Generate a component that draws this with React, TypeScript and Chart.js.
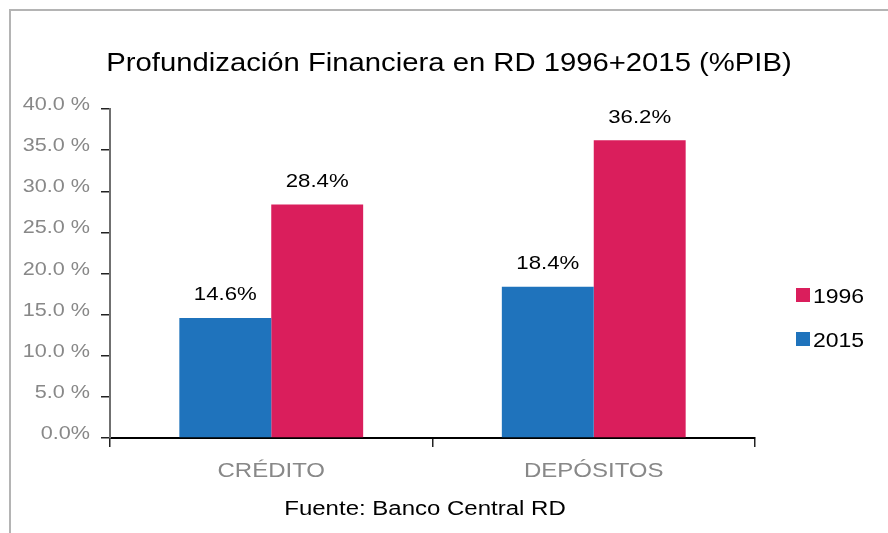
import React, { useEffect, useRef } from "react";
import { Chart, registerables } from "chart.js";

Chart.register(...registerables);

const categories = ["CRÉDITO", "DEPÓSITOS"];
const series2015 = [14.6, 18.4];
const series1996 = [28.4, 36.2];
const seriesLabels = ["2015", "1996"];
const yTicks = [0, 5, 10, 15, 20, 25, 30, 35, 40];
const titleText = "Profundización Financiera en RD 1996+2015 (%PIB)";
const footerText = "Fuente: Banco Central RD";

const BLUE = "#1F73BC";
const PINK = "#DA1E5C";
const FONT = "'Liberation Sans', Arial, Helvetica, sans-serif";

function yLabel(v: number) {
  return v === 0 ? "0.0%" : v.toFixed(1) + " %";
}

function drawText(
  ctx: CanvasRenderingContext2D,
  text: string,
  x: number,
  y: number,
  size: number,
  color: string,
  align: CanvasTextAlign,
  sx: number
) {
  ctx.save();
  ctx.translate(x, y);
  ctx.scale(sx, 1);
  ctx.font = `${size}px ${FONT}`;
  ctx.fillStyle = color;
  ctx.textAlign = align;
  ctx.textBaseline = "alphabetic";
  ctx.fillText(text, 0, 0);
  ctx.restore();
}

export default function App() {
  const ref = useRef<HTMLCanvasElement | null>(null);

  useEffect(() => {
    const canvas = ref.current;
    if (!canvas) return;

    const decor = {
      id: "decor",
      beforeDraw(chart: any) {
        const ctx = chart.ctx;
        ctx.save();
        ctx.fillStyle = "#ffffff";
        ctx.fillRect(0, 0, chart.width, chart.height);
        ctx.strokeStyle = "#b4b4b4";
        ctx.lineWidth = 2;
        ctx.beginPath();
        ctx.moveTo(10, chart.height + 5);
        ctx.lineTo(10, 10);
        ctx.lineTo(chart.width + 5, 10);
        ctx.stroke();
        ctx.restore();
      },
      afterDraw(chart: any) {
        const ctx = chart.ctx;
        // title & footer
        drawText(ctx, titleText, 449, 71, 26, "#000", "center", 1.125);
        drawText(ctx, footerText, 425, 515, 20, "#000", "center", 1.2);

        // y tick labels
        const ys = chart.scales.y;
        ys.ticks.forEach((t: any) => {
          const py = ys.getPixelForValue(t.value);
          drawText(ctx, yLabel(t.value), 90, py + 1, 18, "#888888", "right", 1.2);
        });
        // x tick labels
        const xs = chart.scales.x;
        chart.data.labels.forEach((lab: string, i: number) => {
          const px = xs.getPixelForValue(i);
          drawText(ctx, lab, px, xs.top + 39, 20, "#888888", "center", 1.2);
        });

        // value labels
        chart.data.datasets.forEach((ds: any, di: number) => {
          const meta = chart.getDatasetMeta(di);
          meta.data.forEach((bar: any, i: number) => {
            const v = ds.data[i];
            drawText(ctx, v.toFixed(1) + "%", bar.x, bar.y - 17.5, 18.5, "#000", "center", 1.2);
          });
        });

        // legend (reversed order)
        const items = chart.data.datasets.slice().reverse();
        items.forEach((ds: any, k: number) => {
          const top = 288 + k * 44;
          ctx.save();
          ctx.fillStyle = ds.backgroundColor;
          ctx.fillRect(796, top, 14, 14);
          ctx.restore();
          drawText(ctx, ds.label, 813, top + 15, 20, "#000", "left", 1.15);
        });
      },
    };

    const chart = new Chart(canvas, {
      type: "bar",
      data: {
        labels: categories,
        datasets: [
          { label: seriesLabels[0], data: series2015, backgroundColor: BLUE },
          { label: seriesLabels[1], data: series1996, backgroundColor: PINK },
        ],
      },
      options: {
        animation: false,
        responsive: false,
        maintainAspectRatio: false,
        devicePixelRatio: 1,
        layout: { padding: { left: 10, right: 133, top: 109, bottom: 0 } },
        datasets: { bar: { categoryPercentage: 0.57, barPercentage: 1.0 } },
        plugins: {
          legend: { display: false },
          title: { display: false },
          tooltip: { enabled: false },
        },
        scales: {
          x: {
            offset: true,
            grid: {
              offset: true,
              drawOnChartArea: false,
              drawTicks: true,
              tickLength: 9,
              color: "#222",
              lineWidth: 1.5,
            },
            border: { display: true, color: "#000", width: 2 },
            ticks: { display: false },
            afterFit(scale: any) {
              scale.height = 95;
            },
          },
          y: {
            min: 0,
            max: 40,
            afterBuildTicks(scale: any) {
              scale.ticks = yTicks.map((v) => ({ value: v }));
            },
            grid: {
              drawOnChartArea: false,
              drawTicks: true,
              tickLength: 9,
              color: "#222",
              lineWidth: 1.5,
            },
            border: { display: true, color: "#707070", width: 2 },
            ticks: { display: false },
            afterFit(scale: any) {
              scale.width = 100;
            },
          },
        },
      },
      plugins: [decor],
    });

    return () => chart.destroy();
  }, []);

  return (
    <div style={{ position: "absolute", left: 0, top: 0, width: 888, height: 533 }}>
      <canvas ref={ref} width={888} height={533} style={{ width: 888, height: 533, display: "block" }} />
    </div>
  );
}
